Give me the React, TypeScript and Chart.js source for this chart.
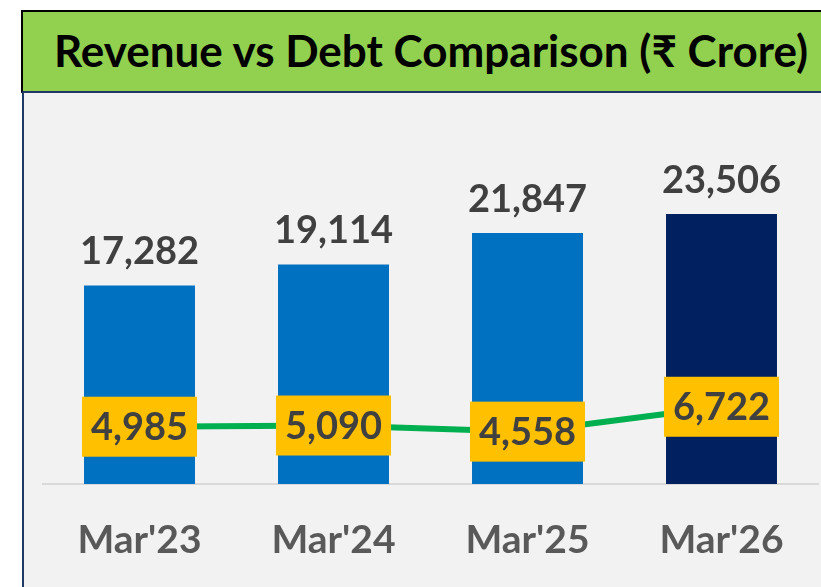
import React, { useEffect, useRef } from "react";
import { Chart, registerables } from "chart.js";

Chart.register(...registerables);

const categories = ["Mar'23", "Mar'24", "Mar'25", "Mar'26"];
const revenue = [17282, 19114, 21847, 23506];
const debt = [4985, 5090, 4558, 6722];
const barColors = ["#0070C0", "#0070C0", "#0070C0", "#002060"];
const titleText = "Revenue vs Debt Comparison (₹ Crore)";
const yMax = 30000;

const FONT = "Lato, 'Open Sans', sans-serif";

const fmt = (v: number) => v.toLocaleString("en-US");

const labelPlugin = {
  id: "valueLabels",
  afterDatasetsDraw(chart: any) {
    const ctx = chart.ctx;
    ctx.save();
    ctx.font = `bold 38px ${FONT}`;
    ctx.textAlign = "center";
    ctx.textBaseline = "alphabetic";
    const barMeta = chart.getDatasetMeta(0);
    barMeta.data.forEach((el: any, i: number) => {
      ctx.fillStyle = "#404040";
      ctx.fillText(fmt(revenue[i]), el.x, el.y - 21);
    });
    const lineMeta = chart.getDatasetMeta(1);
    lineMeta.data.forEach((el: any, i: number) => {
      const t = fmt(debt[i]);
      const w = ctx.measureText(t).width + 18;
      const h = 60;
      ctx.fillStyle = "#FFC000";
      ctx.fillRect(el.x - w / 2, el.y - h / 2, w, h);
      ctx.fillStyle = "#404040";
      ctx.fillText(t, el.x, el.y + 13.5);
    });
    ctx.restore();
  },
};

export default function App() {
  const ref = useRef<HTMLCanvasElement | null>(null);

  useEffect(() => {
    document.body.style.margin = "0";
    document.body.style.overflow = "hidden";
    const canvas = ref.current;
    if (!canvas) return;
    const chart = new Chart(canvas, {
      type: "bar",
      data: {
        labels: categories,
        datasets: [
          {
            type: "bar",
            label: "Revenue",
            data: revenue,
            backgroundColor: barColors,
            borderWidth: 0,
            barPercentage: 0.572,
            categoryPercentage: 1,
            order: 2,
          } as any,
          {
            type: "line",
            label: "Debt",
            data: debt,
            borderColor: "#00B050",
            borderWidth: 6,
            pointRadius: 0,
            tension: 0,
            fill: false,
            order: 1,
          } as any,
        ],
      },
      options: {
        responsive: false,
        animation: false,
        devicePixelRatio: 1,
        layout: { padding: { left: 42.5, right: 2.5, top: 139.3, bottom: 0 } },
        plugins: {
          legend: { display: false },
          tooltip: { enabled: false },
          title: { display: false },
        },
        scales: {
          x: {
            grid: { display: true, color: "transparent", drawTicks: false },
            border: { display: true, color: "#D9D9D9", width: 2 },
            ticks: {
              color: "#595959",
              font: { family: FONT, size: 39, weight: "bold" },
              padding: 33,
              maxRotation: 0,
            },
            afterFit: (scale: any) => {
              scale.height = 103;
            },
          },
          y: {
            display: false,
            min: 0,
            max: yMax,
          },
        },
      } as any,
      plugins: [labelPlugin],
    });
    return () => chart.destroy();
  }, []);

  return (
    <div
      style={{
        position: "fixed",
        left: 0,
        top: 0,
        width: 821,
        height: 587,
        overflow: "hidden",
        background: "#FFFFFF",
      }}
    >
      <div
        style={{
          position: "absolute",
          left: 22,
          top: 93,
          width: 900,
          height: 600,
          background: "#F2F2F2",
          borderLeft: "2px solid #1F3864",
          boxSizing: "border-box",
        }}
      />
      <div
        style={{
          position: "absolute",
          left: 21,
          top: 10,
          width: 900,
          height: 83,
          background: "#92D050",
          borderTop: "2px solid #000000",
          borderLeft: "2px solid #000000",
          borderBottom: "2px solid #203864",
          boxSizing: "border-box",
        }}
      />
      <div
        style={{
          position: "absolute",
          left: 0,
          top: 24,
          width: 862,
          textAlign: "center",
          fontFamily: FONT,
          fontWeight: 700,
          fontSize: 44,
          lineHeight: "52.8px",
          color: "#000000",
          whiteSpace: "nowrap",
        }}
      >
        {titleText}
      </div>
      <canvas
        ref={ref}
        width={821}
        height={587}
        style={{ position: "absolute", left: 0, top: 0, width: 821, height: 587 }}
      />
    </div>
  );
}
